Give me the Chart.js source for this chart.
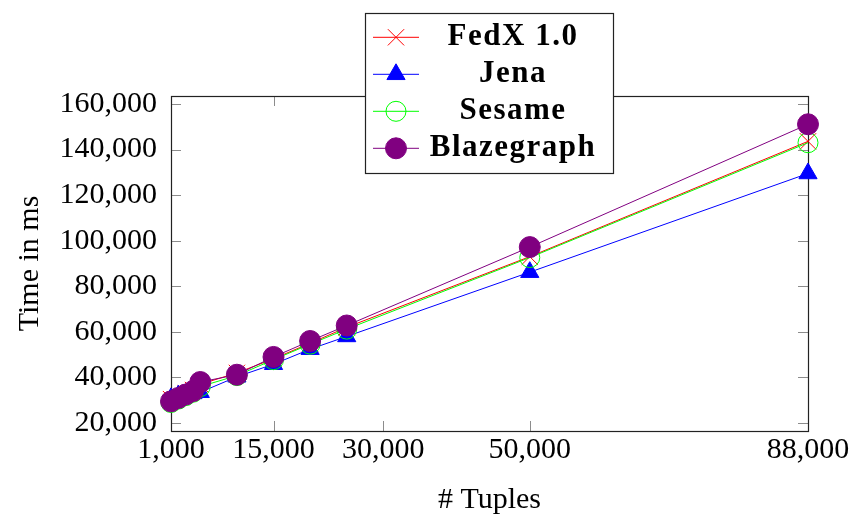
<!DOCTYPE html>
<html lang="en">
<head>
  <meta charset="UTF-8" />
  <title>Time vs tuples</title>
  <script src="https://cdn.jsdelivr.net/npm/chart.js"></script>
  <style>
    body {
      margin: 0;
      background: #ffffff;
    }
    canvas {
      display: block;
    }
  </style>
</head>
<body>
  <canvas id="chart" width="852" height="518"></canvas>
  <script>
    // data
    const tuples = [1000, 2000, 3000, 4000, 5000, 10000, 15000, 20000, 25000, 50000, 88000];
    const fedx = [30500, 31800, 33000, 34500, 37000, 42000, 48200, 55000, 62000, 93000, 143600];
    const jena = [30800, 32000, 32500, 33000, 33500, 40300, 45800, 52400, 58000, 86200, 129500];
    const sesame = [29000, 30500, 32000, 33500, 36000, 40800, 47800, 54600, 61200, 92600, 143000];
    const blazegraph = [29500, 31000, 32500, 34000, 38000, 41200, 49000, 56000, 62800, 97200, 151100];

    const seriesNames = ['FedX 1.0', 'Jena', 'Sesame', 'Blazegraph'];
    const xTicks = [1000, 15000, 30000, 50000, 88000];
    const yTicks = [20000, 40000, 60000, 80000, 100000, 120000, 140000, 160000];

    const FONT = "'Liberation Serif', 'Times New Roman', serif";
    Chart.defaults.font.family = FONT;
    Chart.defaults.color = '#000';

    function points(values) {
      return tuples.map((t, i) => ({ x: t, y: values[i] }));
    }

    const styles = [
      { color: '#ff0000', pointStyle: 'crossRot', radius: 11.5, fill: 'transparent' },
      { color: '#0000ff', pointStyle: 'triangle', radius: 10.5, fill: '#0000ff' },
      { color: '#00ff00', pointStyle: 'circle', radius: 10, fill: 'transparent' },
      { color: '#800080', pointStyle: 'circle', radius: 10.5, fill: '#800080' }
    ];
    const allValues = [fedx, jena, sesame, blazegraph];

    const datasets = allValues.map((vals, i) => ({
      label: seriesNames[i],
      data: points(vals),
      showLine: true,
      borderColor: styles[i].color,
      borderWidth: 1,
      pointStyle: styles[i].pointStyle,
      pointRadius: styles[i].radius,
      pointHoverRadius: styles[i].radius,
      pointBorderColor: styles[i].color,
      pointBackgroundColor: styles[i].fill,
      pointBorderWidth: 1,
      order: 3 - i,
      clip: false
    }));

    // small marker helper for the legend
    function drawMarker(ctx, style, x, y) {
      ctx.save();
      ctx.strokeStyle = style.color;
      ctx.fillStyle = style.fill;
      ctx.lineWidth = 1;
      ctx.beginPath();
      const r = style.radius;
      if (style.pointStyle === 'circle') {
        ctx.arc(x, y, r, 0, Math.PI * 2);
        ctx.fill();
        ctx.stroke();
      } else if (style.pointStyle === 'triangle') {
        let rad = 0;
        ctx.moveTo(x + Math.sin(rad) * r, y - Math.cos(rad) * r);
        rad += Math.PI * 2 / 3;
        ctx.lineTo(x + Math.sin(rad) * r, y - Math.cos(rad) * r);
        rad += Math.PI * 2 / 3;
        ctx.lineTo(x + Math.sin(rad) * r, y - Math.cos(rad) * r);
        ctx.closePath();
        ctx.fill();
        ctx.stroke();
      } else {
        const o = Math.cos(Math.PI / 4) * r;
        ctx.moveTo(x - o, y - o);
        ctx.lineTo(x + o, y + o);
        ctx.moveTo(x + o, y - o);
        ctx.lineTo(x - o, y + o);
        ctx.stroke();
      }
      ctx.restore();
    }

    // frame and inward ticks, pgfplots style
    const framePlugin = {
      id: 'frame',
      beforeDatasetsDraw(chart) {
        const { ctx, chartArea: a } = chart;
        const xs = chart.scales.x, ys = chart.scales.y;
        const len = 10;
        ctx.save();
        ctx.strokeStyle = 'rgba(0,0,0,0.45)';
        ctx.lineWidth = 1;
        ctx.beginPath();
        xTicks.forEach(v => {
          const px = Math.round(xs.getPixelForValue(v)) + 0.5;
          ctx.moveTo(px, a.bottom); ctx.lineTo(px, a.bottom - len);
          ctx.moveTo(px, a.top); ctx.lineTo(px, a.top + len);
        });
        yTicks.forEach(v => {
          const py = Math.round(ys.getPixelForValue(v)) + 0.5;
          ctx.moveTo(a.left, py); ctx.lineTo(a.left + len, py);
          ctx.moveTo(a.right, py); ctx.lineTo(a.right - len, py);
        });
        ctx.stroke();
        ctx.strokeStyle = '#222';
        ctx.lineWidth = 1.2;
        ctx.strokeRect(Math.round(a.left) + 0.5, Math.round(a.top) + 0.5,
          Math.round(a.right - a.left), Math.round(a.bottom - a.top));
        ctx.restore();
      }
    };

    const legendPlugin = {
      id: 'boxLegend',
      afterDraw(chart) {
        const { ctx } = chart;
        ctx.save();
        ctx.fillStyle = '#fff';
        ctx.fillRect(365, 13, 248, 160);
        ctx.strokeStyle = '#222';
        ctx.lineWidth = 1.2;
        ctx.strokeRect(365.5, 13.5, 248, 160);
        seriesNames.forEach((name, i) => {
          const y = 37.3 + i * 37;
          ctx.strokeStyle = styles[i].color;
          ctx.lineWidth = 1;
          ctx.beginPath();
          ctx.moveTo(373, y);
          ctx.lineTo(419, y);
          ctx.stroke();
          drawMarker(ctx, styles[i], 396, y);
          ctx.fillStyle = '#000';
          ctx.font = 'bold 31px ' + FONT;
          ctx.letterSpacing = '1.5px';
          ctx.textAlign = 'center';
          ctx.textBaseline = 'middle';
          ctx.fillText(name, 513, y);
        });
        ctx.restore();
      }
    };

    new Chart(document.getElementById('chart'), {
      type: 'scatter',
      data: { datasets },
      plugins: [framePlugin, legendPlugin],
      options: {
        responsive: false,
        animation: false,
        devicePixelRatio: 1,
        layout: { padding: { top: 96, right: 44, left: 0, bottom: 0 } },
        plugins: {
          legend: { display: false },
          tooltip: { enabled: false }
        },
        scales: {
          x: {
            type: 'linear',
            min: 1000,
            max: 88000,
            grid: { display: false, drawTicks: false },
            border: { display: false },
            afterBuildTicks: s => { s.ticks = xTicks.map(v => ({ value: v })); },
            afterFit: s => { s.height = 87; s.paddingLeft = 0; s.paddingRight = 0; },
            ticks: {
              padding: 1,
              maxRotation: 0,
              autoSkip: false,
              font: { size: 30 },
              callback: v => v.toLocaleString('en-US')
            },
            title: {
              display: true,
              text: '# Tuples',
              font: { size: 30 },
              padding: { top: 0, bottom: 0 }
            }
          },
          y: {
            type: 'linear',
            min: 16500,
            max: 163500,
            grid: { display: false, drawTicks: false },
            border: { display: false },
            afterBuildTicks: s => { s.ticks = yTicks.map(v => ({ value: v })); },
            afterFit: s => { s.width = 171; s.paddingTop = 0; s.paddingBottom = 0; },
            ticks: {
              padding: 14,
              autoSkip: false,
              font: { size: 30 },
              callback: v => v.toLocaleString('en-US')
            },
            title: {
              display: true,
              text: 'Time in ms',
              font: { size: 30 },
              padding: { top: 12, bottom: 0 }
            }
          }
        }
      }
    });
  </script>
</body>
</html>
